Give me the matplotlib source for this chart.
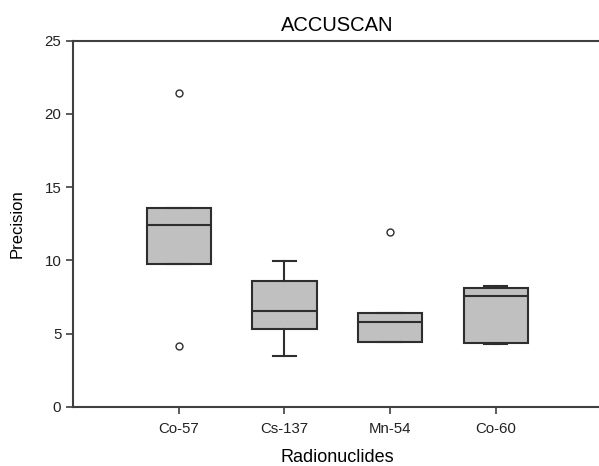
import matplotlib.pyplot as plt

plt.rcParams['font.family'] = ['Liberation Sans', 'DejaVu Sans']

# Box statistics
labels = ["Co-57", "Cs-137", "Mn-54", "Co-60"]
q1 = [9.75, 5.3, 4.4, 4.33]
med = [12.4, 6.55, 5.77, 7.58]
q3 = [13.55, 8.6, 6.42, 8.13]
whislo = [9.75, 3.48, 4.4, 4.3]
whishi = [13.55, 9.95, 6.42, 8.27]
fliers = [[21.45, 4.15], [], [11.93], []]

stats = []
for i in range(len(labels)):
    stats.append(dict(label=labels[i], q1=q1[i], med=med[i], q3=q3[i],
                      whislo=whislo[i], whishi=whishi[i], fliers=fliers[i]))

fig = plt.figure(figsize=(5.99, 4.66), dpi=100)
ax = fig.add_axes([0.122, 0.127, 0.882, 0.786])

line_c = "#2e2e2e"
ax.bxp(stats, positions=[1, 2, 3, 4], widths=0.61, patch_artist=True,
       boxprops=dict(facecolor="#c0c0c0", edgecolor=line_c, linewidth=1.5),
       medianprops=dict(color=line_c, linewidth=1.5),
       whiskerprops=dict(color=line_c, linewidth=1.5),
       capprops=dict(color=line_c, linewidth=1.5),
       capwidths=0.22,
       flierprops=dict(marker="o", markersize=5, markerfacecolor="white",
                       markeredgecolor=line_c, markeredgewidth=1))

ax.set_xlim(0, 5)
ax.set_ylim(0, 25)
ax.set_yticks([0, 5, 10, 15, 20, 25])
ax.set_xticks([1, 2, 3, 4])
ax.set_xticklabels(labels)

for s in ax.spines.values():
    s.set_color("#404040")
    s.set_linewidth(1.5)
ax.tick_params(direction="out", length=5, width=1.2, color="#404040",
               labelsize=10.8, labelcolor="#222222")
ax.tick_params(axis="x", pad=6)

ax.set_title("ACCUSCAN", fontsize=14.5, pad=7)
ax.set_xlabel("Radionuclides", fontsize=13, labelpad=9)
ax.set_ylabel("Precision", fontsize=12, labelpad=14)

fig.savefig("out.png", dpi=100)
